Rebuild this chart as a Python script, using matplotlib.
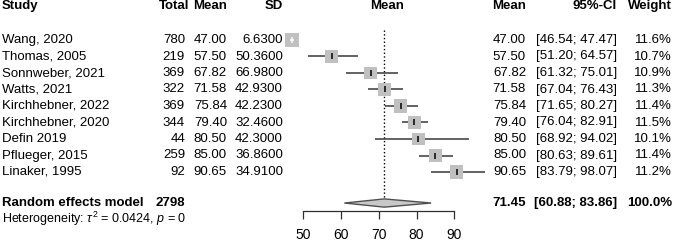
import numpy as np
import matplotlib
matplotlib.use("Agg")
from matplotlib import pyplot as plt

plt.rcParams['font.family'] = ['Liberation Sans', 'DejaVu Sans']
plt.rcParams['mathtext.fontset'] = 'custom'
plt.rcParams['mathtext.rm'] = 'Liberation Sans'
plt.rcParams['mathtext.it'] = 'Liberation Sans:italic'

studies = ["Wang, 2020", "Thomas, 2005", "Sonnweber, 2021", "Watts, 2021",
           "Kirchhebner, 2022", "Kirchhebner, 2020", "Defin 2019",
           "Pflueger, 2015", "Linaker, 1995"]
total = [780, 219, 369, 322, 369, 344, 44, 259, 92]
means = [47.00, 57.50, 67.82, 71.58, 75.84, 79.40, 80.50, 85.00, 90.65]
sds = [6.63, 50.36, 66.98, 42.93, 42.23, 32.46, 42.30, 36.86, 34.91]
ci_lo = [46.54, 51.20, 61.32, 67.04, 71.65, 76.04, 68.92, 80.63, 83.79]
ci_hi = [47.47, 64.57, 75.01, 76.43, 80.27, 82.91, 94.02, 89.61, 98.07]
weights = [11.6, 10.7, 10.9, 11.3, 11.4, 11.5, 10.1, 11.4, 11.2]

re_total = 2798
re_mean, re_lo, re_hi = 71.45, 60.88, 83.86
tau2, pval = 0.0424, 0
xticks = [50, 60, 70, 80, 90]

W, H = 674, 243
row_px, y0_px = 16.5, 40


def px2row(y):
    return (y - y0_px) / row_px


fig = plt.figure(figsize=(W / 100, H / 100), dpi=100)

# text layer, x in pixels, y in rows
tax = fig.add_axes([0, 0, 1, 1])
tax.set_xlim(0, W)
tax.set_ylim(px2row(H), px2row(0))
tax.axis('off')

fs = 9.5
hdr = -2.05
rows = np.arange(len(studies))
sum_row = 9.88

tax.text(2, hdr, "Study", fontsize=fs, fontweight='bold', va='center')
tax.text(189, hdr, "Total", fontsize=fs, fontweight='bold', va='center', ha='right')
tax.text(227, hdr, "Mean", fontsize=fs, fontweight='bold', va='center', ha='right')
tax.text(283, hdr, "SD", fontsize=fs, fontweight='bold', va='center', ha='right')
tax.text(387, hdr, "Mean", fontsize=fs, fontweight='bold', va='center', ha='center')
tax.text(526, hdr, "Mean", fontsize=fs, fontweight='bold', va='center', ha='right')
tax.text(617, hdr, "95%-CI", fontsize=fs, fontweight='bold', va='center', ha='right')
tax.text(672, hdr, "Weight", fontsize=fs, fontweight='bold', va='center', ha='right')

for i, r in enumerate(rows):
    tax.text(2, r, studies[i], fontsize=fs, va='center')
    tax.text(185, r, f"{total[i]}", fontsize=fs, va='center', ha='right')
    tax.text(227, r, f"{means[i]:.2f}", fontsize=fs, va='center', ha='right')
    tax.text(283, r, f"{sds[i]:.4f}", fontsize=fs, va='center', ha='right')
    tax.text(526, r, f"{means[i]:.2f}", fontsize=fs, va='center', ha='right')
    tax.text(617, r, f"[{ci_lo[i]:.2f}; {ci_hi[i]:.2f}]", fontsize=fs, va='center', ha='right')
    tax.text(672, r, f"{weights[i]:.1f}%", fontsize=fs, va='center', ha='right')

tax.text(2, sum_row, "Random effects model", fontsize=fs, fontweight='bold', va='center')
tax.text(185, sum_row, f"{re_total}", fontsize=fs, fontweight='bold', va='center', ha='right')
tax.text(526, sum_row, f"{re_mean:.2f}", fontsize=fs, fontweight='bold', va='center', ha='right')
tax.text(617, sum_row, f"[{re_lo:.2f}; {re_hi:.2f}]", fontsize=fs, fontweight='bold',
         va='center', ha='right')
tax.text(672, sum_row, "100.0%", fontsize=fs, fontweight='bold', va='center', ha='right')
tax.text(2, 10.85, rf"Heterogeneity: $\tau^2$ = {tau2:.4f}, $p$ = {pval}", fontsize=9,
         va='center')

# forest panel
px50, px_per = 303.3, 3.775
xmin, xmax = 44, 100
left = px50 + (xmin - 50) * px_per
right = px50 + (xmax - 50) * px_per
axis_px = 211
ax = fig.add_axes([left / W, (H - axis_px) / H, (right - left) / W, axis_px / H])
ax.set_xlim(xmin, xmax)
ax.set_ylim(px2row(axis_px), px2row(0))
ax.patch.set_alpha(0)
for s in ['top', 'right', 'left']:
    ax.spines[s].set_visible(False)
ax.spines['bottom'].set_bounds(xticks[0], xticks[-1])
ax.spines['bottom'].set_color('#303030')
ax.spines['bottom'].set_linewidth(0.9)
ax.set_yticks([])
ax.set_xticks(xticks)
ax.tick_params(axis='x', direction='out', length=5.8, width=0.9, color='#303030',
               labelsize=10, pad=6.5)

ms_base = 9.4  # points, box side for ~11.2% weight
box_area = [ms_base ** 2 * w / 11.2 for w in weights]

ax.hlines(rows, ci_lo, ci_hi, color='#383838', lw=1.1, zorder=2)
ax.scatter(means, rows, s=box_area, marker='s', color='#c0c0c0', lw=0, zorder=3)
for i, r in enumerate(rows):
    half = np.sqrt(box_area[i]) / 2 / 0.72 / px_per
    inside = ci_lo[i] > means[i] - half and ci_hi[i] < means[i] + half
    col = 'white' if inside else 'black'
    if inside:
        ax.hlines(r, ci_lo[i], ci_hi[i], color='white', lw=1.1, zorder=4)
    ax.plot(means[i], r, marker='|', ms=4.5, mew=1.1, color=col, zorder=5)

ax.plot([re_mean, re_mean], [px2row(30), sum_row - 0.25], linestyle=':', color='black',
        lw=1.0, zorder=1)
ax.fill([re_lo, re_mean, re_hi, re_mean],
        [sum_row, sum_row - 0.25, sum_row, sum_row + 0.25],
        facecolor='#c8c8c8', edgecolor='#505050', lw=1.0, zorder=3, clip_on=False)

fig.savefig("out.png", dpi=100)
